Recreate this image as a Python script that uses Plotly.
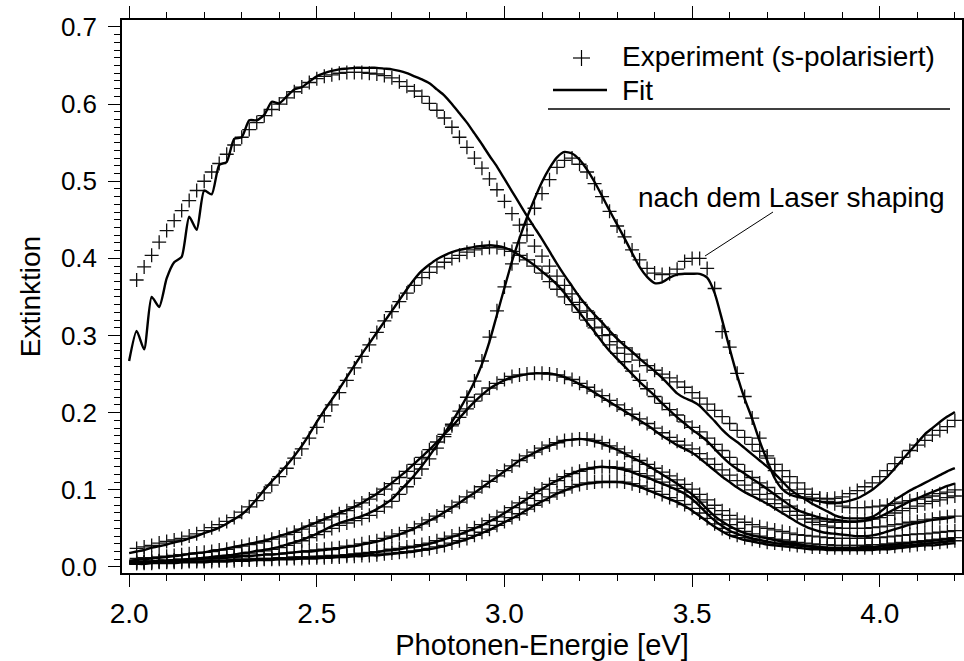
import numpy as np
import plotly.graph_objects as go

# Photon energy grid [eV]
E_FIT = [round(2.00 + 0.02 * i, 2) for i in range(111)]
E_EXP = E_FIT[1:]

# ---- Fits (2.00 .. 4.20) ----
A_FIT = [0.267, 0.306, 0.282, 0.350, 0.337, 0.374, 0.395, 0.402, 0.454, 0.437,
         0.488, 0.483, 0.521, 0.525, 0.555, 0.557, 0.579, 0.579, 0.586, 0.603,
         0.601, 0.610, 0.619, 0.622, 0.629, 0.636, 0.640, 0.643, 0.645, 0.646,
         0.647, 0.647, 0.647, 0.647, 0.646, 0.645, 0.643, 0.640, 0.636, 0.632,
         0.627, 0.619, 0.611, 0.600, 0.588, 0.576, 0.562, 0.548, 0.533, 0.519,
         0.503, 0.487, 0.471, 0.455, 0.440, 0.425, 0.409, 0.393, 0.378, 0.364,
         0.350, 0.338, 0.327, 0.317, 0.306, 0.296, 0.287, 0.279, 0.270, 0.262,
         0.254, 0.245, 0.235, 0.225, 0.219, 0.215, 0.209, 0.199, 0.189, 0.178,
         0.169, 0.162, 0.154, 0.146, 0.138, 0.130, 0.121, 0.111, 0.101, 0.094,
         0.088, 0.082, 0.077, 0.072, 0.067, 0.064, 0.063, 0.063, 0.063, 0.065,
         0.071, 0.079, 0.087, 0.093, 0.099, 0.104, 0.109, 0.114, 0.119, 0.124,
         0.128]
B_FIT = [0.018, 0.020, 0.022, 0.025, 0.027, 0.029, 0.032, 0.034, 0.037, 0.040,
         0.044, 0.047, 0.051, 0.056, 0.062, 0.068, 0.077, 0.088, 0.100, 0.111,
         0.121, 0.132, 0.144, 0.157, 0.172, 0.188, 0.203, 0.217, 0.231, 0.246,
         0.261, 0.276, 0.290, 0.304, 0.318, 0.332, 0.346, 0.360, 0.373, 0.384,
         0.392, 0.399, 0.404, 0.408, 0.411, 0.413, 0.415, 0.416, 0.417, 0.416,
         0.414, 0.410, 0.404, 0.398, 0.391, 0.383, 0.375, 0.366, 0.355, 0.342,
         0.330, 0.317, 0.305, 0.292, 0.280, 0.270, 0.260, 0.250, 0.240, 0.231,
         0.222, 0.212, 0.203, 0.194, 0.186, 0.178, 0.171, 0.163, 0.153, 0.143,
         0.134, 0.127, 0.121, 0.114, 0.108, 0.101, 0.094, 0.087, 0.080, 0.074,
         0.070, 0.067, 0.064, 0.062, 0.061, 0.060, 0.059, 0.059, 0.060, 0.062,
         0.065, 0.070, 0.075, 0.080, 0.085, 0.089, 0.093, 0.097, 0.101, 0.105,
         0.108]
C_FIT = [0.006, 0.006, 0.007, 0.007, 0.008, 0.008, 0.009, 0.009, 0.010, 0.011,
         0.012, 0.013, 0.014, 0.015, 0.016, 0.018, 0.019, 0.021, 0.022, 0.024,
         0.026, 0.029, 0.032, 0.035, 0.039, 0.043, 0.048, 0.053, 0.057, 0.060,
         0.063, 0.066, 0.070, 0.075, 0.081, 0.088, 0.098, 0.108, 0.119, 0.131,
         0.144, 0.158, 0.173, 0.188, 0.204, 0.221, 0.240, 0.263, 0.292, 0.327,
         0.362, 0.396, 0.426, 0.453, 0.477, 0.499, 0.517, 0.531, 0.538, 0.536,
         0.528, 0.515, 0.499, 0.481, 0.462, 0.444, 0.426, 0.407, 0.389, 0.376,
         0.368, 0.369, 0.375, 0.379, 0.380, 0.380, 0.380, 0.375, 0.355, 0.320,
         0.283, 0.248, 0.218, 0.192, 0.163, 0.138, 0.115, 0.101, 0.094, 0.091,
         0.089, 0.087, 0.085, 0.083, 0.083, 0.084, 0.086, 0.089, 0.094, 0.100,
         0.108, 0.117, 0.128, 0.139, 0.150, 0.161, 0.172, 0.180, 0.188, 0.195,
         0.201]
D_FIT = [0.008, 0.009, 0.010, 0.011, 0.012, 0.013, 0.014, 0.015, 0.017, 0.018,
         0.019, 0.021, 0.022, 0.024, 0.026, 0.028, 0.030, 0.032, 0.034, 0.037,
         0.040, 0.043, 0.046, 0.050, 0.054, 0.058, 0.062, 0.066, 0.070, 0.074,
         0.078, 0.083, 0.089, 0.095, 0.102, 0.109, 0.117, 0.125, 0.134, 0.143,
         0.152, 0.162, 0.172, 0.182, 0.193, 0.204, 0.214, 0.223, 0.231, 0.237,
         0.242, 0.246, 0.248, 0.250, 0.251, 0.251, 0.251, 0.249, 0.246, 0.242,
         0.237, 0.232, 0.226, 0.220, 0.214, 0.208, 0.202, 0.196, 0.190, 0.184,
         0.177, 0.170, 0.164, 0.158, 0.153, 0.148, 0.141, 0.133, 0.125, 0.117,
         0.110, 0.103, 0.097, 0.092, 0.087, 0.082, 0.076, 0.070, 0.064, 0.058,
         0.053, 0.049, 0.046, 0.044, 0.043, 0.042, 0.041, 0.040, 0.040, 0.041,
         0.043, 0.046, 0.049, 0.052, 0.055, 0.057, 0.059, 0.061, 0.062, 0.063,
         0.065]
E_FIT_V = [0.006, 0.006, 0.007, 0.007, 0.008, 0.008, 0.009, 0.009, 0.010, 0.010,
           0.011, 0.011, 0.012, 0.012, 0.013, 0.014, 0.014, 0.015, 0.016, 0.016,
           0.017, 0.018, 0.019, 0.020, 0.020, 0.021, 0.022, 0.023, 0.024, 0.026,
           0.027, 0.029, 0.031, 0.033, 0.036, 0.039, 0.042, 0.046, 0.050, 0.055,
           0.060, 0.065, 0.071, 0.077, 0.083, 0.090, 0.096, 0.103, 0.110, 0.117,
           0.124, 0.131, 0.138, 0.143, 0.148, 0.153, 0.157, 0.161, 0.164, 0.165,
           0.166, 0.165, 0.163, 0.160, 0.156, 0.152, 0.147, 0.142, 0.137, 0.132,
           0.126, 0.120, 0.114, 0.108, 0.101, 0.094, 0.085, 0.075, 0.066, 0.059,
           0.053, 0.048, 0.044, 0.041, 0.039, 0.037, 0.035, 0.033, 0.031, 0.030,
           0.028, 0.027, 0.026, 0.025, 0.025, 0.025, 0.025, 0.025, 0.026, 0.026,
           0.027, 0.028, 0.029, 0.030, 0.031, 0.032, 0.033, 0.034, 0.035, 0.036,
           0.037]
F_FIT = [0.005, 0.005, 0.005, 0.006, 0.006, 0.006, 0.006, 0.007, 0.007, 0.007,
         0.007, 0.008, 0.008, 0.008, 0.009, 0.009, 0.009, 0.010, 0.010, 0.010,
         0.011, 0.011, 0.012, 0.012, 0.012, 0.013, 0.013, 0.014, 0.014, 0.015,
         0.016, 0.017, 0.018, 0.019, 0.021, 0.022, 0.023, 0.025, 0.026, 0.028,
         0.030, 0.033, 0.036, 0.039, 0.042, 0.046, 0.050, 0.054, 0.059, 0.064,
         0.070, 0.076, 0.082, 0.088, 0.095, 0.101, 0.107, 0.112, 0.117, 0.121,
         0.125, 0.127, 0.129, 0.130, 0.129, 0.128, 0.126, 0.123, 0.119, 0.116,
         0.112, 0.108, 0.104, 0.100, 0.095, 0.088, 0.079, 0.069, 0.060, 0.053,
         0.047, 0.043, 0.040, 0.037, 0.035, 0.033, 0.031, 0.030, 0.029, 0.028,
         0.027, 0.026, 0.025, 0.024, 0.024, 0.023, 0.023, 0.023, 0.023, 0.024,
         0.024, 0.025, 0.026, 0.027, 0.028, 0.029, 0.030, 0.031, 0.032, 0.033,
         0.034]
G_FIT = [0.004, 0.004, 0.004, 0.005, 0.005, 0.005, 0.005, 0.006, 0.006, 0.006,
         0.006, 0.007, 0.007, 0.007, 0.008, 0.008, 0.008, 0.009, 0.009, 0.009,
         0.010, 0.010, 0.010, 0.011, 0.011, 0.011, 0.012, 0.012, 0.013, 0.013,
         0.014, 0.014, 0.015, 0.015, 0.016, 0.017, 0.018, 0.019, 0.020, 0.022,
         0.023, 0.025, 0.027, 0.030, 0.033, 0.036, 0.040, 0.044, 0.048, 0.053,
         0.058, 0.063, 0.068, 0.074, 0.080, 0.085, 0.090, 0.095, 0.099, 0.103,
         0.106, 0.108, 0.109, 0.110, 0.110, 0.110, 0.109, 0.107, 0.104, 0.100,
         0.096, 0.092, 0.088, 0.084, 0.079, 0.073, 0.066, 0.059, 0.052, 0.046,
         0.041, 0.038, 0.035, 0.033, 0.031, 0.029, 0.028, 0.027, 0.026, 0.025,
         0.024, 0.023, 0.023, 0.022, 0.022, 0.022, 0.022, 0.022, 0.022, 0.022,
         0.023, 0.023, 0.024, 0.025, 0.026, 0.027, 0.028, 0.028, 0.029, 0.030,
         0.031]

# ---- Experiment (2.02 .. 4.20) ----
A_EXP = [0.372, 0.389, 0.404, 0.421, 0.436, 0.449, 0.462, 0.475, 0.488, 0.500,
         0.512, 0.523, 0.535, 0.547, 0.557, 0.567, 0.576, 0.585, 0.593, 0.600,
         0.608, 0.616, 0.622, 0.628, 0.633, 0.636, 0.638, 0.640, 0.641, 0.641,
         0.641, 0.640, 0.639, 0.637, 0.634, 0.629, 0.623, 0.617, 0.610, 0.601,
         0.592, 0.582, 0.570, 0.557, 0.544, 0.530, 0.517, 0.503, 0.489, 0.474,
         0.458, 0.443, 0.430, 0.416, 0.403, 0.390, 0.377, 0.365, 0.354, 0.343,
         0.332, 0.322, 0.311, 0.301, 0.292, 0.284, 0.276, 0.268, 0.261, 0.255,
         0.250, 0.245, 0.240, 0.233, 0.226, 0.219, 0.211, 0.203, 0.195, 0.186,
         0.177, 0.168, 0.159, 0.150, 0.141, 0.133, 0.125, 0.117, 0.109, 0.101,
         0.094, 0.089, 0.085, 0.082, 0.079, 0.077, 0.077, 0.077, 0.078, 0.079,
         0.080, 0.082, 0.084, 0.086, 0.088, 0.090, 0.092, 0.095, 0.097, 0.100]
B_EXP = [0.024, 0.026, 0.028, 0.031, 0.033, 0.035, 0.037, 0.040, 0.043, 0.047,
         0.051, 0.055, 0.059, 0.064, 0.071, 0.078, 0.086, 0.096, 0.106, 0.117,
         0.128, 0.141, 0.153, 0.167, 0.181, 0.196, 0.210, 0.226, 0.242, 0.258,
         0.273, 0.288, 0.304, 0.319, 0.331, 0.344, 0.355, 0.365, 0.375, 0.382,
         0.389, 0.395, 0.400, 0.404, 0.408, 0.411, 0.413, 0.414, 0.414, 0.412,
         0.409, 0.404, 0.398, 0.390, 0.381, 0.370, 0.360, 0.350, 0.340, 0.330,
         0.320, 0.310, 0.300, 0.288, 0.277, 0.266, 0.254, 0.242, 0.231, 0.221,
         0.212, 0.204, 0.197, 0.188, 0.181, 0.175, 0.167, 0.159, 0.151, 0.142,
         0.133, 0.124, 0.116, 0.109, 0.103, 0.095, 0.087, 0.079, 0.072, 0.067,
         0.063, 0.061, 0.059, 0.058, 0.058, 0.058, 0.059, 0.060, 0.062, 0.064,
         0.067, 0.070, 0.073, 0.076, 0.079, 0.082, 0.085, 0.087, 0.090, 0.092]
C_EXP = [0.005, 0.006, 0.006, 0.007, 0.007, 0.008, 0.008, 0.009, 0.010, 0.011,
         0.012, 0.013, 0.014, 0.015, 0.017, 0.018, 0.020, 0.021, 0.023, 0.025,
         0.028, 0.031, 0.034, 0.038, 0.042, 0.046, 0.050, 0.054, 0.057, 0.060,
         0.063, 0.067, 0.072, 0.078, 0.085, 0.094, 0.104, 0.115, 0.127, 0.140,
         0.154, 0.169, 0.185, 0.202, 0.220, 0.241, 0.267, 0.298, 0.332, 0.363,
         0.393, 0.420, 0.444, 0.465, 0.484, 0.502, 0.518, 0.527, 0.530, 0.522,
         0.512, 0.497, 0.480, 0.461, 0.442, 0.428, 0.411, 0.398, 0.387, 0.381,
         0.379, 0.380, 0.386, 0.396, 0.400, 0.400, 0.387, 0.361, 0.305, 0.285,
         0.251, 0.221, 0.193, 0.167, 0.144, 0.125, 0.110, 0.100, 0.095, 0.091,
         0.089, 0.089, 0.088, 0.089, 0.091, 0.095, 0.099, 0.104, 0.109, 0.117,
         0.125, 0.134, 0.142, 0.151, 0.158, 0.164, 0.171, 0.177, 0.182, 0.190]
D_EXP = [0.011, 0.012, 0.012, 0.013, 0.014, 0.015, 0.016, 0.017, 0.018, 0.019,
         0.020, 0.022, 0.023, 0.025, 0.027, 0.029, 0.031, 0.033, 0.036, 0.039,
         0.042, 0.045, 0.049, 0.053, 0.057, 0.061, 0.065, 0.069, 0.073, 0.078,
         0.083, 0.088, 0.094, 0.101, 0.108, 0.116, 0.124, 0.133, 0.142, 0.152,
         0.162, 0.172, 0.183, 0.194, 0.205, 0.215, 0.224, 0.232, 0.238, 0.243,
         0.247, 0.249, 0.250, 0.251, 0.251, 0.250, 0.249, 0.246, 0.243, 0.238,
         0.233, 0.228, 0.222, 0.216, 0.210, 0.204, 0.198, 0.192, 0.186, 0.180,
         0.174, 0.168, 0.163, 0.158, 0.153, 0.147, 0.140, 0.133, 0.126, 0.119,
         0.112, 0.106, 0.100, 0.094, 0.088, 0.082, 0.077, 0.072, 0.067, 0.062,
         0.058, 0.055, 0.053, 0.051, 0.050, 0.050, 0.050, 0.050, 0.051, 0.052,
         0.053, 0.055, 0.056, 0.058, 0.059, 0.061, 0.062, 0.064, 0.065, 0.066]
E_EXP_V = [0.007, 0.007, 0.008, 0.008, 0.009, 0.009, 0.010, 0.010, 0.011, 0.011,
           0.012, 0.012, 0.013, 0.013, 0.014, 0.015, 0.015, 0.016, 0.017, 0.017,
           0.018, 0.019, 0.020, 0.021, 0.022, 0.023, 0.024, 0.025, 0.027, 0.028,
           0.030, 0.032, 0.034, 0.037, 0.040, 0.043, 0.047, 0.051, 0.056, 0.061,
           0.066, 0.072, 0.078, 0.084, 0.091, 0.097, 0.104, 0.111, 0.118, 0.125,
           0.131, 0.138, 0.144, 0.149, 0.154, 0.158, 0.161, 0.164, 0.165, 0.166,
           0.166, 0.164, 0.161, 0.157, 0.153, 0.148, 0.143, 0.138, 0.133, 0.128,
           0.123, 0.118, 0.113, 0.107, 0.101, 0.094, 0.087, 0.080, 0.073, 0.067,
           0.062, 0.058, 0.055, 0.052, 0.050, 0.048, 0.046, 0.044, 0.042, 0.041,
           0.040, 0.039, 0.038, 0.037, 0.037, 0.037, 0.037, 0.037, 0.038, 0.038,
           0.039, 0.040, 0.041, 0.042, 0.043, 0.043, 0.044, 0.045, 0.046, 0.047]
F_EXP = [0.006, 0.006, 0.006, 0.007, 0.007, 0.007, 0.007, 0.008, 0.008, 0.008,
         0.009, 0.009, 0.009, 0.010, 0.010, 0.010, 0.011, 0.011, 0.011, 0.012,
         0.012, 0.013, 0.013, 0.013, 0.014, 0.014, 0.015, 0.015, 0.016, 0.017,
         0.018, 0.019, 0.020, 0.021, 0.023, 0.024, 0.026, 0.027, 0.029, 0.031,
         0.034, 0.037, 0.040, 0.043, 0.047, 0.051, 0.055, 0.060, 0.065, 0.071,
         0.077, 0.083, 0.089, 0.095, 0.101, 0.107, 0.112, 0.117, 0.121, 0.124,
         0.127, 0.129, 0.130, 0.130, 0.129, 0.127, 0.124, 0.121, 0.118, 0.114,
         0.110, 0.106, 0.102, 0.097, 0.091, 0.084, 0.076, 0.068, 0.061, 0.055,
         0.050, 0.046, 0.043, 0.040, 0.038, 0.036, 0.035, 0.033, 0.032, 0.031,
         0.030, 0.029, 0.029, 0.028, 0.028, 0.028, 0.028, 0.028, 0.029, 0.029,
         0.030, 0.031, 0.032, 0.032, 0.033, 0.034, 0.035, 0.036, 0.037, 0.038]
G_EXP = [0.005, 0.005, 0.005, 0.006, 0.006, 0.006, 0.006, 0.007, 0.007, 0.007,
         0.007, 0.008, 0.008, 0.008, 0.009, 0.009, 0.009, 0.010, 0.010, 0.010,
         0.011, 0.011, 0.011, 0.012, 0.012, 0.012, 0.013, 0.013, 0.014, 0.014,
         0.015, 0.015, 0.016, 0.017, 0.018, 0.019, 0.020, 0.021, 0.022, 0.024,
         0.026, 0.028, 0.031, 0.034, 0.037, 0.041, 0.045, 0.049, 0.054, 0.059,
         0.064, 0.069, 0.075, 0.080, 0.086, 0.091, 0.096, 0.100, 0.104, 0.107,
         0.109, 0.110, 0.111, 0.111, 0.111, 0.110, 0.108, 0.105, 0.102, 0.098,
         0.094, 0.090, 0.086, 0.081, 0.076, 0.070, 0.063, 0.056, 0.050, 0.045,
         0.041, 0.038, 0.036, 0.034, 0.032, 0.031, 0.030, 0.029, 0.028, 0.027,
         0.026, 0.026, 0.025, 0.025, 0.025, 0.025, 0.025, 0.025, 0.025, 0.026,
         0.026, 0.027, 0.028, 0.028, 0.029, 0.030, 0.031, 0.032, 0.033, 0.034]

FITS = [A_FIT, B_FIT, C_FIT, D_FIT, E_FIT_V, F_FIT, G_FIT]
EXPS = [A_EXP, B_EXP, C_EXP, D_EXP, E_EXP_V, F_EXP, G_EXP]

FONT = "Liberation Sans, Arial, Helvetica, sans-serif"

fig = go.Figure()
for ys in EXPS:
    n = min(len(ys), len(E_EXP))
    fig.add_trace(go.Scatter(
        x=E_EXP[:n], y=ys[:n], mode="markers", showlegend=False,
        marker=dict(symbol="cross-thin", size=10,
                    line=dict(width=1.3, color="#111111"))))
for ys in FITS:
    n = min(len(ys), len(E_FIT))
    fig.add_trace(go.Scatter(
        x=E_FIT[:n], y=ys[:n], mode="lines", showlegend=False,
        line=dict(color="black", width=2.4, shape="spline", smoothing=0.6)))

L, R, T, B = 122, 2, 20, 88
W, H = 964, 661
PW, PH = W - L - R, H - T - B


def px(x):
    return (x - L) / PW


def py(y):
    return (H - B - y) / PH


line_kw = dict(xref="paper", yref="paper", type="line")
shapes = [
    # legend "+" symbol
    dict(x0=px(573), x1=px(590), y0=py(58), y1=py(58), line=dict(color="black", width=1.2), **line_kw),
    dict(x0=px(581.5), x1=px(581.5), y0=py(50), y1=py(66), line=dict(color="black", width=1.2), **line_kw),
    # legend fit line
    dict(x0=px(553), x1=px(607), y0=py(90), y1=py(90), line=dict(color="black", width=2.5), **line_kw),
    # underline
    dict(x0=px(548), x1=px(950), y0=py(109), y1=py(109), line=dict(color="black", width=1.5), **line_kw),
    # annotation leader
    dict(x0=px(773), x1=px(705), y0=py(212), y1=py(256), line=dict(color="black", width=1), **line_kw),
]

annotations = [
    dict(text="Experiment (s-polarisiert)", x=px(620), y=py(57), xref="paper", yref="paper",
         xanchor="left", yanchor="middle", showarrow=False, font=dict(size=28, color="black", family=FONT)),
    dict(text="Fit", x=px(620), y=py(90), xref="paper", yref="paper",
         xanchor="left", yanchor="middle", showarrow=False, font=dict(size=28, color="black", family=FONT)),
    dict(text="nach dem Laser shaping", x=px(947), y=py(197), xref="paper", yref="paper",
         xanchor="right", yanchor="middle", showarrow=False, font=dict(size=28, color="black", family=FONT)),
]

axis_common = dict(
    showline=True, linecolor="black", linewidth=1.5, mirror="allticks",
    ticks="outside", ticklen=12, tickwidth=1.3, tickcolor="black",
    showgrid=False, zeroline=False, tickmode="linear", tickformat=".1f",
)

fig.update_layout(
    width=W, height=H,
    margin=dict(l=L, r=R, t=T, b=B, autoexpand=False),
    paper_bgcolor="white", plot_bgcolor="white",
    font=dict(family=FONT, color="black"),
    shapes=shapes, annotations=annotations,
    xaxis=dict(
        range=[1.981, 4.219], tick0=2.0, dtick=0.5,
        tickfont=dict(size=28, family=FONT), ticklabelstandoff=3,
        minor=dict(ticks="outside", ticklen=6, tickwidth=1.2, tickcolor="black", dtick=0.1, tick0=2.0),
        title=dict(text="Photonen-Energie [eV]", font=dict(size=29, family=FONT), standoff=4),
        automargin=False, **axis_common),
    yaxis=dict(
        range=[-0.0078, 0.709], tick0=0.0, dtick=0.1,
        tickfont=dict(size=26, family=FONT), ticklabelstandoff=6,
        minor=dict(ticks="outside", ticklen=6, tickwidth=1.2, tickcolor="black", dtick=0.01, tick0=0.0),
        title=dict(text="Extinktion", font=dict(size=28, family=FONT), standoff=12),
        automargin=False, **axis_common),
)

fig.write_html("out.html")
